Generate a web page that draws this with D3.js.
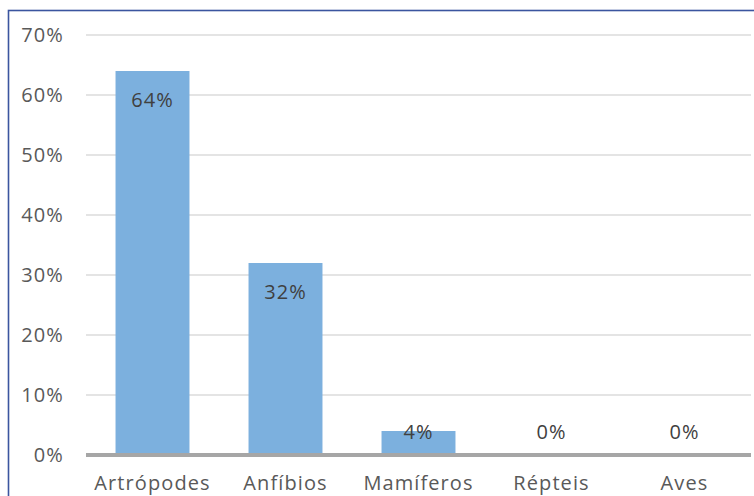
<!DOCTYPE html>
<html>
<head>
<meta charset="utf-8">
<script src="https://cdn.jsdelivr.net/npm/d3@7"></script>
<style>
  html, body { margin: 0; padding: 0; background: #ffffff; }
  svg { display: block; }
</style>
</head>
<body>
<div id="chart"></div>
<script>
const categories = ["Artrópodes", "Anfíbios", "Mamíferos", "Répteis", "Aves"];
const values = [64, 32, 4, 0, 0];
const yTicks = [0, 10, 20, 30, 40, 50, 60, 70];

const W = 754, H = 496;
const svg = d3.select("#chart").append("svg").attr("width", W).attr("height", H);

// outer frame (extends past the right and bottom edges)
svg.append("rect")
  .attr("x", 8.5).attr("y", 10.5)
  .attr("width", W + 20).attr("height", H + 20)
  .attr("fill", "none").attr("stroke", "#3b559f").attr("stroke-width", 1.6);

const x = d3.scaleBand().domain(categories).range([86, 751]).paddingInner(0.444).paddingOuter(0.222);
const y = d3.scaleLinear().domain([0, 70]).range([455, 35]);

const font = "'Open Sans', sans-serif";
const fs = 20;
const ls = "1.1px";

// gridlines
svg.append("g").selectAll("line").data(yTicks.filter(d => d > 0)).join("line")
  .attr("x1", 86).attr("x2", 751)
  .attr("y1", d => y(d)).attr("y2", d => y(d))
  .attr("stroke", "#e4e4e4").attr("stroke-width", 2);

// y axis labels
const yAxis = d3.axisLeft(y).tickValues(yTicks).tickFormat(d => d + "%").tickSize(0).tickPadding(0);
const gy = svg.append("g").attr("transform", "translate(64,0)").call(yAxis);
gy.select(".domain").remove();
gy.selectAll("text").attr("font-family", font).attr("font-size", fs)
  .attr("letter-spacing", ls).attr("fill", "#595959");

// bars
svg.append("g").selectAll("rect").data(values).join("rect")
  .attr("x", (d, i) => x(categories[i]))
  .attr("width", x.bandwidth())
  .attr("y", d => y(d))
  .attr("height", d => y(0) - y(d))
  .attr("fill", "#7cb0de");

// x axis line
svg.append("line").attr("x1", 86).attr("x2", 751)
  .attr("y1", y(0)).attr("y2", y(0))
  .attr("stroke", "#a6a6a6").attr("stroke-width", 4);

// x axis labels
const xAxis = d3.axisBottom(x).tickSize(0).tickPadding(0);
const gx = svg.append("g").call(xAxis);
gx.select(".domain").remove();
gx.selectAll("text").attr("y", 490).attr("dy", null)
  .attr("font-family", font).attr("font-size", fs)
  .attr("letter-spacing", ls).attr("fill", "#595959");

// data labels
svg.append("g").selectAll("text").data(values).join("text")
  .attr("x", (d, i) => x(categories[i]) + x.bandwidth() / 2)
  .attr("y", d => Math.min(y(d) + 29, y(0) - 23))
  .attr("dy", "0.35em")
  .attr("text-anchor", "middle")
  .attr("font-family", font).attr("font-size", fs)
  .attr("letter-spacing", ls)
  .attr("fill", "#404040")
  .text(d => d + "%");
</script>
</body>
</html>
